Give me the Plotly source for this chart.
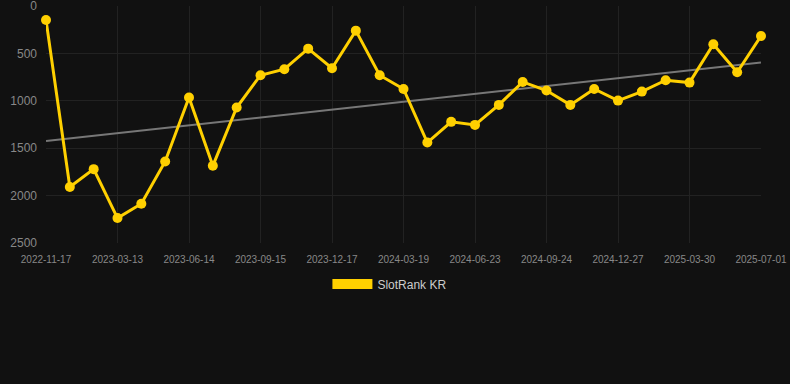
import numpy as np
import plotly.graph_objects as go

tick_labels = ["2022-11-17", "2023-03-13", "2023-06-14", "2023-09-15", "2023-12-17",
               "2024-03-19", "2024-06-23", "2024-09-24", "2024-12-27", "2025-03-30", "2025-07-01"]
rank_values = [147, 1910, 1721, 2237, 2086, 1640, 966, 1686, 1071, 730,
               667, 450, 657, 260, 730, 875, 1440, 1222, 1254, 1043,
               801, 892, 1043, 875, 998, 903, 783, 808, 404, 699, 316]
series_name = "SlotRank KR"

idx = np.arange(len(rank_values))
slope, intercept = np.polyfit(idx, rank_values, 1)
trend = slope * idx + intercept

yellow = "#FFD000"
fig = go.Figure()
fig.add_trace(go.Scatter(x=idx, y=trend, mode="lines", line=dict(color="#777777", width=2),
                         showlegend=False, hoverinfo="skip"))
fig.add_trace(go.Scatter(x=idx, y=rank_values, mode="lines+markers",
                         line=dict(color=yellow, width=3), marker=dict(color=yellow, size=10),
                         cliponaxis=False, showlegend=False))
fig.add_trace(go.Scatter(x=[None], y=[None], mode="lines", line=dict(color=yellow, width=10),
                         name=series_name))

tickvals = list(range(0, len(rank_values), 3))
fig.update_layout(
    width=790, height=384,
    paper_bgcolor="#111111", plot_bgcolor="#111111",
    margin=dict(l=46, r=29, t=6, b=141, autoexpand=False),
    font=dict(family="Liberation Sans, Arial, sans-serif", color="#888888"),
    xaxis=dict(range=[0, len(rank_values) - 1], tickvals=tickvals, ticktext=tick_labels,
               showgrid=True, gridcolor="#222222", zeroline=False, showline=False,
               tickangle=0, tickfont=dict(size=10, color="#888888"), ticks="",
               ticklabelstandoff=9, ticklabeloverflow="allow"),
    yaxis=dict(range=[2500, 0], tickvals=[0, 500, 1000, 1500, 2000, 2500],
               showgrid=True, gridcolor="#222222", zeroline=False,
               tickfont=dict(size=12, color="#888888"), ticks="",
               ticklabelstandoff=8, ticklabeloverflow="allow"),
    legend=dict(orientation="h", x=0.481, xanchor="center",
                y=-0.173, yanchor="middle",
                itemwidth=40, font=dict(size=12, color="#cccccc"), bgcolor="rgba(0,0,0,0)"),
)
fig.write_html("out.html", config={"displayModeBar": False},
               post_script="document.body.style.margin='0';")
